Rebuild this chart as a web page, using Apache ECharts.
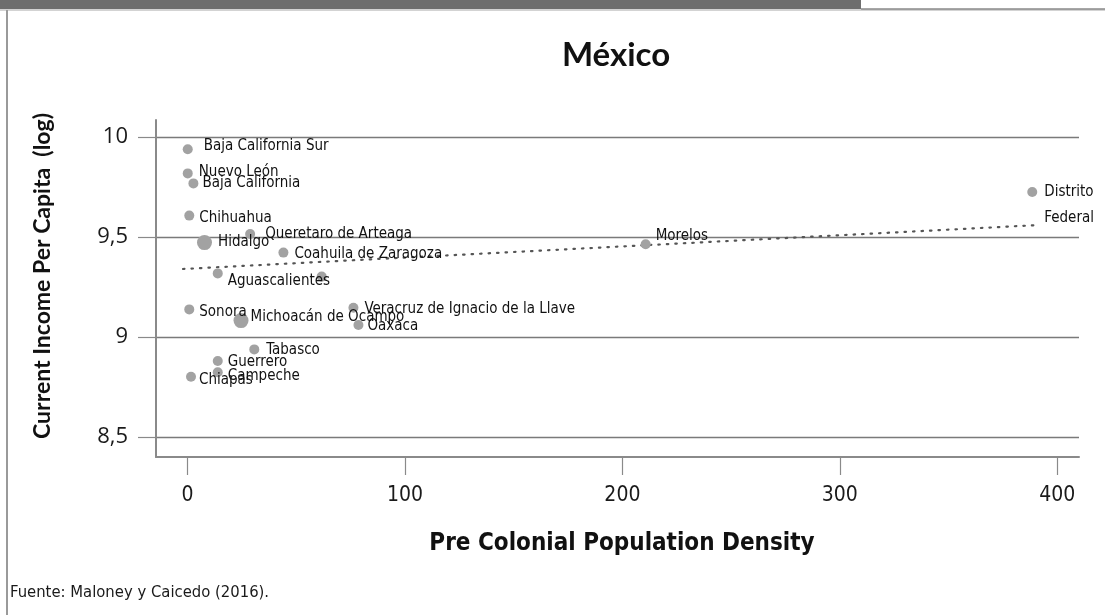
<!DOCTYPE html>
<html>
<head>
<meta charset="utf-8">
<script src="https://cdn.jsdelivr.net/npm/echarts@6/dist/echarts.min.js"></script>
<style>
html,body{margin:0;padding:0;background:#fff;}
#c{width:1105px;height:615px;}
</style>
</head>
<body>
<div id="c"></div>
<script>
// ---- data ----
var states = ["Baja California Sur","Nuevo León","Baja California","Chihuahua","Hidalgo",
  "Queretaro de Arteaga","Coahuila de Zaragoza","Aguascalientes","","Sonora",
  "Michoacán de Ocampo","Veracruz de Ignacio de la Llave","Oaxaca","Tabasco","Guerrero",
  "Campeche","Chiapas","Morelos","Distrito\nFederal"];
var density = [0.1,0.1,2.7,0.8,7.8,28.8,44.1,13.9,61.7,0.8,24.6,76.3,78.6,30.7,13.9,13.9,1.6,210.7,388.5];
var income  = [9.939,9.818,9.768,9.607,9.472,9.515,9.422,9.318,9.302,9.138,9.082,9.146,9.060,8.938,8.880,8.824,8.801,9.464,9.725];
var bigStates = ["Hidalgo","Michoacán de Ocampo"];
var trendX = [-2.1, 391.7];
var trendY = [9.340, 9.560];
var xTicks = [0,100,200,300,400];
var yTicks = [8.5,9,9.5,10];
var titleText = "México";
var xTitle = "Pre Colonial Population Density";
var yTitle = "Current Income Per Capita  (log)";
var sourceText = "Fuente: Maloney y Caicedo (2016).";

// ---- label nudges (pixels, relative to default right-side placement) ----
var nudge = {
  "Baja California Sur":[6,-3], "Nuevo León":[1,-1], "Baja California":[-1,0],
  "Chihuahua":[0,3], "Hidalgo":[1,0], "Queretaro de Arteaga":[5,0],
  "Coahuila de Zaragoza":[1,2], "Aguascalientes":[0,8], "Sonora":[0,3],
  "Michoacán de Ocampo":[-3,-3], "Veracruz de Ignacio de la Llave":[1,1],
  "Oaxaca":[-1,1], "Tabasco":[2,1], "Guerrero":[0,1], "Campeche":[0,4],
  "Chiapas":[-2,3], "Morelos":[0,-8], "Distrito\nFederal":[2,13]
};

var NARROW = '"Liberation Sans Narrow","DejaVu Sans Condensed",sans-serif';

var pts = [];
for (var i = 0; i < states.length; i++) {
  var nm = states[i];
  var big = bigStates.indexOf(nm) >= 0;
  var n = nudge[nm] || [0,0];
  pts.push({
    name: nm,
    value: [density[i], income[i]],
    symbolSize: big ? 15 : 10,
    label: {
      show: nm !== "",
      position: 'right',
      distance: 5,
      offset: n,
      lineHeight: 26
    }
  });
}

var chart = echarts.init(document.getElementById('c'));
chart.setOption({
  animation: false,
  backgroundColor: '#fff',
  grid: {left: 156, right: 26, top: 120, bottom: 158, containLabel: false},
  xAxis: {
    type: 'value', min: -14.5, max: 410,
    axisLine: {show: true, onZero: false, lineStyle: {color: '#8a8a8a', width: 2}},
    axisTick: {show: true, length: 18, customValues: xTicks, lineStyle: {color: '#8a8a8a', width: 1.2}},
    axisLabel: {customValues: xTicks, margin: 28, fontFamily: NARROW, fontSize: 21, color: '#1a1a1a'},
    splitLine: {show: false}
  },
  yAxis: {
    type: 'value', min: 8.4, max: 10.085,
    axisLine: {show: true, onZero: false, lineStyle: {color: '#8a8a8a', width: 2}},
    axisTick: {show: true, length: 18, customValues: yTicks, lineStyle: {color: '#8a8a8a', width: 1.2}},
    axisLabel: {customValues: yTicks, margin: 28, fontFamily: '"Open Sans",sans-serif', fontSize: 22, color: '#1a1a1a',
      formatter: function (v) { return String(v).replace('.', ','); }},
    splitLine: {show: true, lineStyle: {color: '#7a7a7a', width: 1.3}}
  },
  series: [
    {
      type: 'line',
      data: [[trendX[0], trendY[0]], [trendX[1], trendY[1]]],
      symbol: 'none',
      silent: true,
      lineStyle: {color: '#555', width: 2.2, type: [1.5, 7], cap: 'round'},
      z: 1
    },
    {
      type: 'scatter',
      data: pts,
      itemStyle: {color: '#a2a2a2', opacity: 1},
      label: {
        formatter: function (p) { return p.name; },
        fontFamily: NARROW, fontSize: 15, color: '#111'
      },
      z: 3
    }
  ],
  graphic: [
    {type: 'rect', shape: {x: 0, y: 0, width: 861, height: 9}, style: {fill: '#6e6e6e'}, silent: true},
    {type: 'line', shape: {x1: 0, y1: 10, x2: 1105, y2: 10}, style: {stroke: '#c4c4c4', lineWidth: 1.5}, silent: true},
    {type: 'line', shape: {x1: 861, y1: 9, x2: 1105, y2: 9}, style: {stroke: '#8a8a8a', lineWidth: 1.5}, silent: true},
    {type: 'line', shape: {x1: 7, y1: 10, x2: 7, y2: 615}, style: {stroke: '#9a9a9a', lineWidth: 2}, silent: true},
    {type: 'text', x: 616, y: 55, style: {text: titleText, font: 'bold 33px Lato, sans-serif', fill: '#111', textAlign: 'center', textVerticalAlign: 'middle'}, silent: true},
    {type: 'text', x: 622, y: 544, style: {text: xTitle, font: 'bold 24px ' + NARROW, fill: '#111', textAlign: 'center', textVerticalAlign: 'middle'}, silent: true},
    {type: 'text', x: 43, y: 276, rotation: Math.PI / 2, style: {text: yTitle, font: 'bold 23px Lato, sans-serif', fill: '#111', textAlign: 'center', textVerticalAlign: 'middle'}, silent: true},
    {type: 'text', x: 10, y: 593, style: {text: sourceText, font: '16.5px ' + NARROW, fill: '#1a1a1a', textAlign: 'left', textVerticalAlign: 'middle'}, silent: true}
  ]
});
</script>
</body>
</html>
